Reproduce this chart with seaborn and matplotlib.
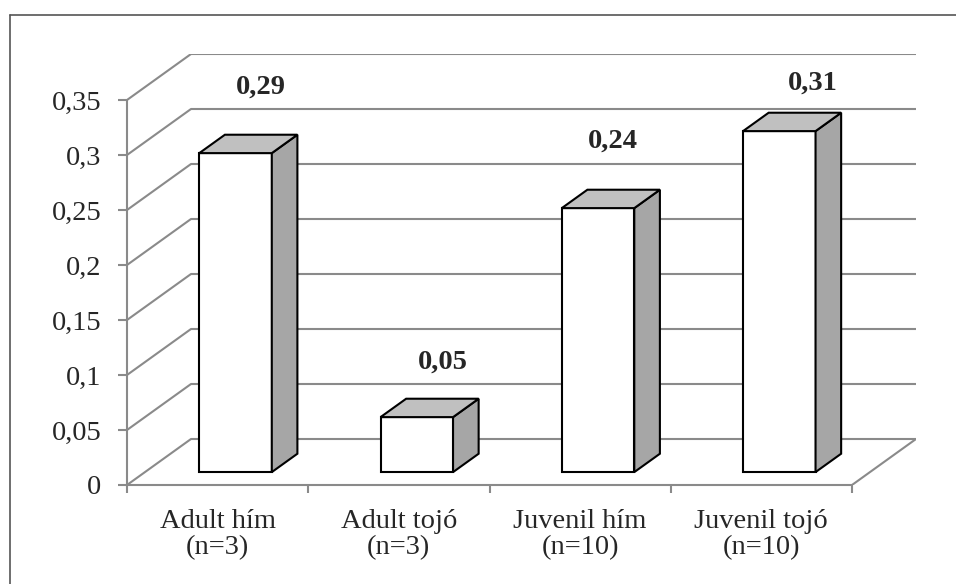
import numpy as np
import pandas as pd
import matplotlib
matplotlib.use("Agg")
import matplotlib.pyplot as plt
from matplotlib.patches import Polygon
from matplotlib.lines import Line2D
from matplotlib.ticker import FuncFormatter, FixedLocator
import seaborn as sns

# --- data -------------------------------------------------------------
categories = ["Adult hím\n(n=3)", "Adult tojó\n(n=3)",
              "Juvenil hím\n(n=10)", "Juvenil tojó\n(n=10)"]
values = [0.29, 0.05, 0.24, 0.31]
value_labels = ["0,29", "0,05", "0,24", "0,31"]
y_ticks = [0, 0.05, 0.1, 0.15, 0.2, 0.25, 0.3, 0.35]

# --- style -------------------------------------------------------------
sns.set_style("white")
plt.rcParams["font.family"] = ["Liberation Serif", "DejaVu Serif"]
FS = 20.5
GRID = "#8a8a8a"
SIDE = "#a6a6a6"
TOP = "#c0c0c0"

W, H = 956, 584
fig = plt.figure(figsize=(W / 100, H / 100), dpi=100)

# pixel frame of the plot floor / walls
x_front_l, x_front_r = 127, 852
y_zero, y_top = 485, 100
wall_dx_px, wall_dy_px = 64, 46

ax = fig.add_axes([x_front_l / W, (H - y_zero) / H,
                   (x_front_r + wall_dx_px - x_front_l) / W,
                   (y_zero - y_top + wall_dy_px) / H])

n = len(categories)
ppx = (x_front_r - x_front_l) / n            # px per category
ppy = (y_zero - y_top) / y_ticks[-1]         # px per value unit
DX = wall_dx_px / ppx                        # depth offset in data units
DY = wall_dy_px / ppy

ax.set_xlim(-0.5, n - 0.5 + DX)
ax.set_ylim(0, y_ticks[-1] + DY)

# walls: gridlines on back wall and diagonals on the left wall
for t in y_ticks:
    ax.plot([-0.5 + DX, n - 0.5 + DX], [t + DY, t + DY], color=GRID,
            lw=1.5, zorder=1, solid_capstyle="butt")
    ax.plot([-0.5, -0.5 + DX], [t, t + DY], color=GRID, lw=1.5, zorder=1)
# floor right edge
ax.plot([n - 0.5, n - 0.5 + DX], [0, DY], color=GRID, lw=1.5, zorder=1)

# front faces of the columns
df = pd.DataFrame({"group": categories, "value": values})
sns.barplot(data=df, x="group", y="value", color="white", saturation=1,
            width=0.40, edgecolor="black", linewidth=1.5, ax=ax, zorder=3)
ax.set_xlim(-0.5, n - 0.5 + DX)
ax.set_ylim(0, y_ticks[-1] + DY)

# place each column inside the depth of the floor and add side/top faces
d0, d1 = 0.28, 0.40
label_nudge_px = [(0, 2), (0, -9), (-11, 3), (8, -16)]
for p, lab, nud in zip(ax.patches, value_labels, label_nudge_px):
    p.set_x(p.get_x() + d0 * DX)
    p.set_y(p.get_y() + d0 * DY)
    x0, y0 = p.get_x(), p.get_y()
    x1, y1 = x0 + p.get_width(), y0 + p.get_height()
    ddx, ddy = d1 * DX, d1 * DY
    side = Polygon([(x1, y0), (x1 + ddx, y0 + ddy), (x1 + ddx, y1 + ddy), (x1, y1)],
                   closed=True, facecolor=SIDE, edgecolor="black", lw=1.5, zorder=3)
    top = Polygon([(x0, y1), (x0 + ddx, y1 + ddy), (x1 + ddx, y1 + ddy), (x1, y1)],
                  closed=True, facecolor=TOP, edgecolor="black", lw=1.5, zorder=3)
    ax.add_patch(side)
    ax.add_patch(top)
    ax.annotate(lab, xy=((x0 + x1) / 2 + ddx, y1 + ddy),
                xytext=(nud[0], 46 + nud[1]), textcoords="offset pixels",
                ha="center", va="center", fontsize=FS, fontweight="bold")

# axes: front value axis and category axis
for s in ["top", "right"]:
    ax.spines[s].set_visible(False)
for s in ["left", "bottom"]:
    ax.spines[s].set_color(GRID)
    ax.spines[s].set_linewidth(1.5)
ax.spines["left"].set_bounds(0, y_ticks[-1])
ax.spines["bottom"].set_bounds(-0.5, n - 0.5)

ax.yaxis.set_major_locator(FixedLocator(y_ticks))
ax.yaxis.set_major_formatter(FuncFormatter(lambda v, _: f"{v:g}".replace(".", ",")))
ax.tick_params(axis="y", direction="out", length=6.5, width=1.5, color=GRID,
               labelsize=FS, pad=12, left=True)
ax.set_xticks(range(n), labels=categories, linespacing=1.1)
ax.xaxis.set_minor_locator(FixedLocator(np.arange(-0.5, n, 1.0)))
ax.tick_params(axis="x", which="major", length=0, labelsize=FS, pad=17)
ax.tick_params(axis="x", which="minor", direction="out", length=6, width=1.5,
               color=GRID, bottom=True)
ax.set_xlabel("")
ax.set_ylabel("")
ax.patch.set_alpha(0)

# chart area border
fig.add_artist(Line2D([10 / W, 1.0], [1 - 15 / H, 1 - 15 / H], color="#555555",
                      lw=1.2, transform=fig.transFigure))
fig.add_artist(Line2D([10 / W, 10 / W], [0, 1 - 15 / H], color="#555555",
                      lw=1.2, transform=fig.transFigure))

fig.savefig("out.png", dpi=100)
